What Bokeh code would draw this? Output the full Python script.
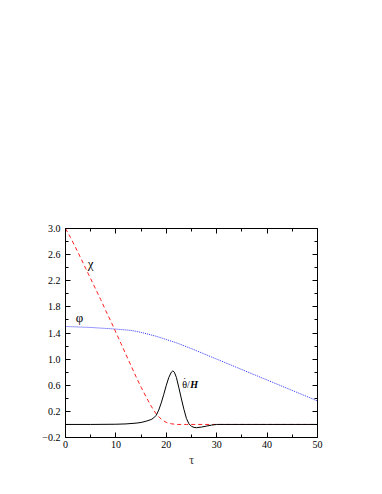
from bokeh.plotting import figure
from bokeh.models import Range1d, FixedTicker, LinearAxis, PrintfTickFormatter
from bokeh.embed import file_html
from bokeh.resources import INLINE
from bokeh.core.properties import value

# ---- data ----
chi_tau = [0, 1, 2, 3, 4, 5, 6, 7, 8, 9, 10, 11, 12, 13, 14, 15, 16, 17, 18, 19,
           20, 21, 22, 23, 24, 26, 30, 40, 50]
chi_val = [3.0, 2.86, 2.71, 2.55, 2.39, 2.23, 2.07, 1.91, 1.74, 1.58, 1.41, 1.24,
           1.07, 0.90, 0.73, 0.57, 0.42, 0.28, 0.16, 0.08, 0.03, 0.01, 0.0, 0.0,
           0.0, 0.0, 0.0, 0.0, 0.0]

phi_tau = [0, 5, 10, 13, 15, 18, 20, 22, 25, 30, 35, 40, 45, 50]
phi_val = [1.50, 1.485, 1.46, 1.44, 1.41, 1.35, 1.30, 1.25, 1.16, 1.00, 0.84, 0.68,
           0.52, 0.36]

theta_tau = [0, 5, 10, 12, 14, 15, 16, 17, 17.5, 18, 18.5, 19, 19.5, 20, 20.5, 21,
             21.3, 21.6, 22, 22.5, 23, 23.5, 24, 24.5, 25, 25.5, 26, 27, 28, 29, 30,
             40, 50]
theta_val = [0.0, 0.0, 0.003, 0.008, 0.02, 0.03, 0.05, 0.075, 0.10, 0.14, 0.22,
             0.33, 0.46, 0.60, 0.72, 0.80, 0.82, 0.80, 0.72, 0.56, 0.39, 0.23, 0.09,
             0.01, -0.03, -0.045, -0.05, -0.04, -0.025, -0.01, 0.0, 0.0, 0.0]

x_ticks = [0, 10, 20, 30, 40, 50]
x_minor = [5, 15, 25, 35, 45]
y_ticks = [-0.2, 0.2, 0.6, 1.0, 1.4, 1.8, 2.2, 2.6, 3.0]
y_tick_labels = ["\u22120.2", "0.2", "0.6", "1.0", "1.4", "1.8", "2.2", "2.6", "3.0"]
y_minor = [0.0, 0.4, 0.8, 1.2, 1.6, 2.0, 2.4, 2.8]

labels_text = ["\u03c7", "\u03c6"]
labels_x = [5.0, 2.8]
labels_y = [2.47, 1.63]

serif = "Liberation Serif"

p = figure(output_backend="svg", toolbar_location=None,
           frame_width=252, frame_height=209,
           min_border_left=65, min_border_right=49,
           min_border_top=228, min_border_bottom=41,
           x_range=Range1d(0, 50), y_range=Range1d(-0.2, 3.0),
           x_axis_label="\u03c4")
p.xgrid.visible = False
p.ygrid.visible = False
p.outline_line_color = "black"
p.outline_line_width = 1
p.background_fill_color = "white"
p.border_fill_color = "white"

xt = FixedTicker(ticks=x_ticks, minor_ticks=x_minor)
yt = FixedTicker(ticks=y_ticks, minor_ticks=y_minor)

def style(ax):
    ax.axis_line_color = "black"
    ax.major_tick_line_color = "black"
    ax.minor_tick_line_color = "black"
    ax.major_tick_in = 5
    ax.major_tick_out = 0
    ax.minor_tick_in = 3
    ax.minor_tick_out = 0
    ax.major_label_text_font = serif
    ax.major_label_text_font_size = "10px"
    ax.major_label_text_color = "black"

xa = p.xaxis[0]
xa.ticker = xt
style(xa)
xa.major_label_standoff = 3
xa.axis_label_text_font = serif
xa.axis_label_text_font_size = "13px"
xa.axis_label_text_font_style = "normal"
xa.axis_label_standoff = 1

ya = p.yaxis[0]
ya.ticker = yt
style(ya)
ya.formatter = PrintfTickFormatter(format="%.1f")
ya.major_label_overrides = {v: s for v, s in zip(y_ticks, y_tick_labels)}
ya.major_label_standoff = 5

top = LinearAxis(ticker=FixedTicker(ticks=x_ticks, minor_ticks=x_minor))
style(top)
top.major_label_overrides = {v: "" for v in x_ticks}
p.add_layout(top, "above")

right = LinearAxis(ticker=FixedTicker(ticks=y_ticks, minor_ticks=y_minor))
style(right)
right.major_label_overrides = {v: "" for v in y_ticks}
p.add_layout(right, "right")

p.line(phi_tau, phi_val, line_color="#3333ff", line_width=1, line_dash="1 1")
p.line(chi_tau, chi_val, line_color="#ff2020", line_width=1, line_dash="4 3")
p.line(theta_tau, theta_val, line_color="black", line_width=1)

p.text(x=labels_x, y=labels_y, text=labels_text, text_font=value(serif),
       text_font_size="13px", text_align="center", text_baseline="middle",
       text_color="black")
p.text(x=[23.15], y=[0.61], text=["\u03b8/"], text_font=value(serif),
       text_font_size="10px", text_align="left", text_baseline="middle",
       text_color="black")
p.text(x=[23.65], y=[0.655], text=["\u02d9"], text_font=value(serif),
       text_font_size="10px", text_align="center", text_baseline="middle",
       text_color="black")
p.text(x=[24.75], y=[0.61], text=["H"], text_font=value(serif),
       text_font_size="10px", text_font_style="bold italic", text_align="left",
       text_baseline="middle", text_color="black")

open("out.html", "w").write(file_html(p, INLINE))
